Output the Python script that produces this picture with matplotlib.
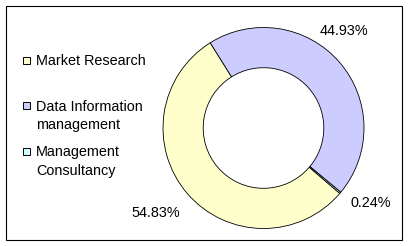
import matplotlib
matplotlib.use("Agg")
import matplotlib.pyplot as plt
from matplotlib.patches import Rectangle

categories = ["Market Research", "Data Information\nmanagement", "Management\nConsultancy"]
values = [54.83, 44.93, 0.24]
colors = ["#FFFFCC", "#CCCCFF", "#CCFFFF"]

W, H = 408, 246
plt.rcParams['font.family'] = ['Liberation Sans', 'DejaVu Sans']
fig = plt.figure(figsize=(W / 100, H / 100), dpi=100)
FS = 10.4

# outer frame
fig.patches.append(Rectangle((5.5 / W, (H - 240) / H), 396 / W, 234.5 / H,
                             transform=fig.transFigure, fill=False,
                             edgecolor="black", linewidth=0.8))

cx, cy, r = 263.5, 128, 100.5
ax = fig.add_axes([(cx - r) / W, (H - cy - r) / H, 2 * r / W, 2 * r / H])
wedges, _ = ax.pie(values, colors=colors, startangle=-40.6, counterclock=False,
                   radius=1.0, wedgeprops=dict(width=0.4, edgecolor="black", linewidth=0.6))
ax.set_xlim(-1, 1)
ax.set_ylim(-1, 1)
ax.set_aspect("equal")
ax.axis("off")

# data labels
label_pos = [(-1.075, -0.886), (0.799, 0.925), (1.063, -0.789)]
for v, (x, y) in zip(values, label_pos):
    ax.text(x, y, f"{v:.2f}%", ha="center", va="baseline", fontsize=FS, clip_on=False)

# legend
for i, (lab, col) in enumerate(zip(categories, colors)):
    ycen = 60 + 45.7 * i
    fig.patches.append(Rectangle((22.5 / W, (H - ycen - 3.5) / H), 7 / W, 7 / H,
                                 transform=fig.transFigure, facecolor=col,
                                 edgecolor="black", linewidth=0.7))
    for j, line in enumerate(lab.split("\n")):
        fig.text(36 / W, (H - ycen - 5 - 18.7 * j) / H, line, ha="left", va="baseline",
                 fontsize=FS)

fig.savefig("out.png", dpi=100)
